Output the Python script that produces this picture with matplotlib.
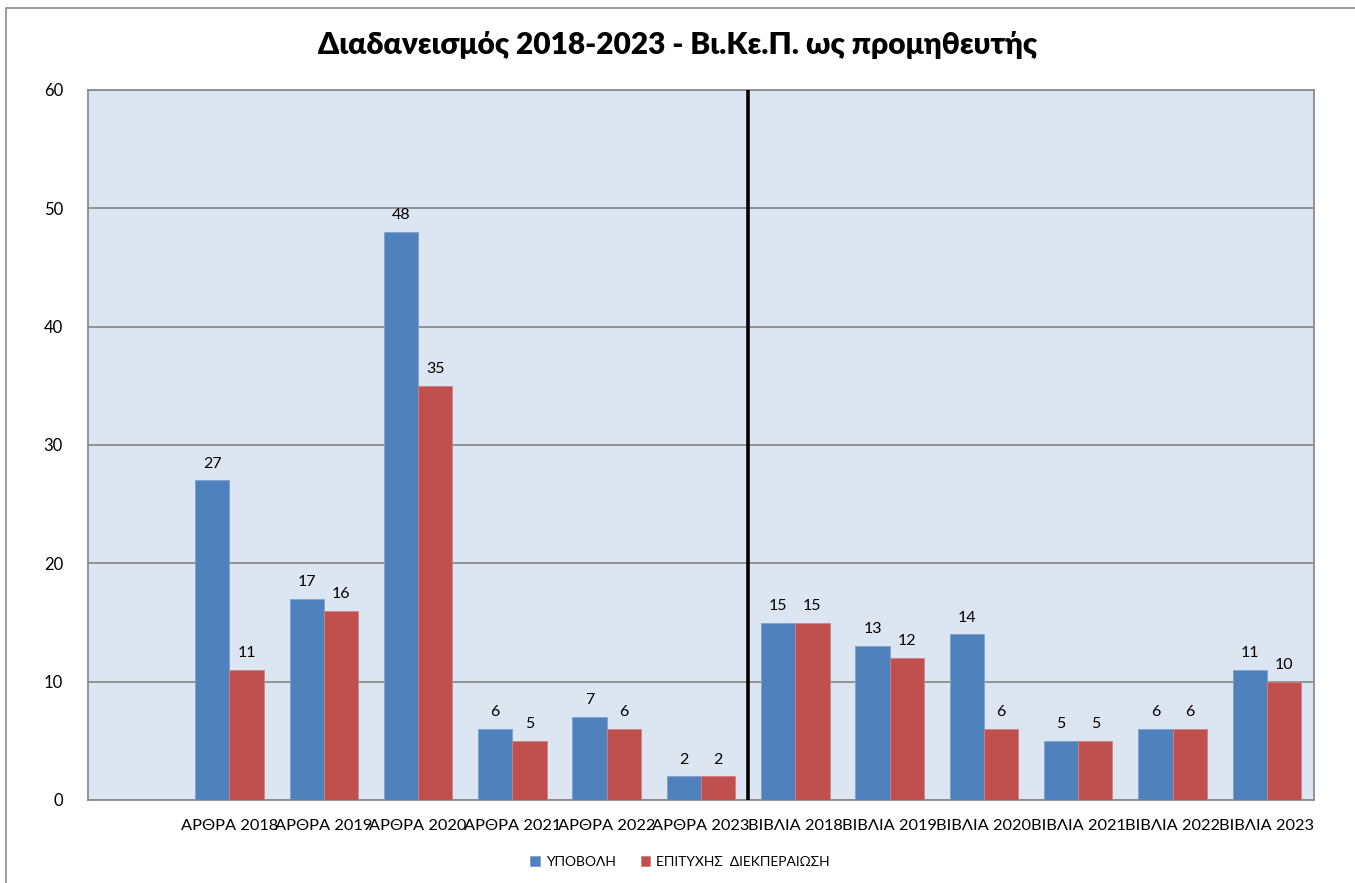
import numpy as np
import matplotlib
matplotlib.use('Agg')
import matplotlib.pyplot as plt
from matplotlib.patches import Rectangle

# Data
categories = ['', 'ΑΡΘΡΑ 2018', 'ΑΡΘΡΑ 2019', 'ΑΡΘΡΑ 2020', 'ΑΡΘΡΑ 2021', 'ΑΡΘΡΑ 2022', 'ΑΡΘΡΑ 2023',
              'ΒΙΒΛΙΑ 2018', 'ΒΙΒΛΙΑ 2019', 'ΒΙΒΛΙΑ 2020', 'ΒΙΒΛΙΑ 2021', 'ΒΙΒΛΙΑ 2022', 'ΒΙΒΛΙΑ 2023']
submitted = [np.nan, 27, 17, 48, 6, 7, 2, 15, 13, 14, 5, 6, 11]
completed = [np.nan, 11, 16, 35, 5, 6, 2, 15, 12, 6, 5, 6, 10]
series_names = ['ΥΠΟΒΟΛΗ', 'ΕΠΙΤΥΧΗΣ  ΔΙΕΚΠΕΡΑΙΩΣΗ']
y_ticks = [0, 10, 20, 30, 40, 50, 60]

BLUE = '#4F81BD'
RED = '#C0504D'
BG = '#DCE6F2'
GRID = '#8C8C8C'

plt.rcParams['font.family'] = ['Lato', 'DejaVu Sans']

W, H = 1355, 883
fig = plt.figure(figsize=(W / 100, H / 100), dpi=100)

# outer chart border (only left and top visible)
fig.patches.append(Rectangle((6 / W, -0.5), 2.0, (H - 8) / H + 0.5, transform=fig.transFigure,
                             fill=False, edgecolor='#8C8C8C', linewidth=1.2))

ax = fig.add_axes([88 / W, (H - 800) / H, (1314 - 88) / W, (800 - 90) / H])
ax.set_facecolor(BG)

x = np.arange(len(categories))
bw = 0.363
b1 = ax.bar(x - bw / 2, submitted, bw, color=BLUE, edgecolor='#7FA0CC', linewidth=0.6,
            label=series_names[0], zorder=3)
b2 = ax.bar(x + bw / 2, completed, bw, color=RED, edgecolor='#D08080', linewidth=0.6,
            label=series_names[1], zorder=3)

for bars, vals in ((b1, submitted), (b2, completed)):
    for rect, v in zip(bars, vals):
        if np.isnan(v):
            continue
        ax.annotate(str(int(v)), (rect.get_x() + rect.get_width() / 2, v),
                    xytext=(0, 7), textcoords='offset points', ha='center', va='bottom',
                    fontsize=11.5, color='black')

# separator between articles and books
ax.axvline(6.5, color='black', linewidth=2.6, zorder=4)

ax.set_xlim(-0.5, len(categories) - 0.5)
ax.set_ylim(0, 60)
ax.set_yticks(y_ticks)
ax.set_xticks(x)
ax.set_xticklabels(categories)
ax.tick_params(axis='y', length=0, pad=18, labelsize=12)
ax.tick_params(axis='x', length=0, pad=14, labelsize=11.8)
ax.yaxis.grid(True, color=GRID, linewidth=1.3, zorder=0)
ax.set_axisbelow(True)
for s in ax.spines.values():
    s.set_color(GRID)
    s.set_linewidth(1.3)

fig.text(0.5, 1 - 45 / H, 'Διαδανεισμός 2018-2023 - Βι.Κε.Π. ως προμηθευτής',
         ha='center', va='center', fontsize=21.5, fontweight='heavy')

fig.legend(handles=[b1, b2], loc='center', bbox_to_anchor=(680 / W, 1 - 862 / H),
           ncol=2, frameon=False, fontsize=10, handlelength=0.7, handleheight=0.7,
           handletextpad=0.4, columnspacing=1.8)

fig.savefig('out.png', dpi=100)
